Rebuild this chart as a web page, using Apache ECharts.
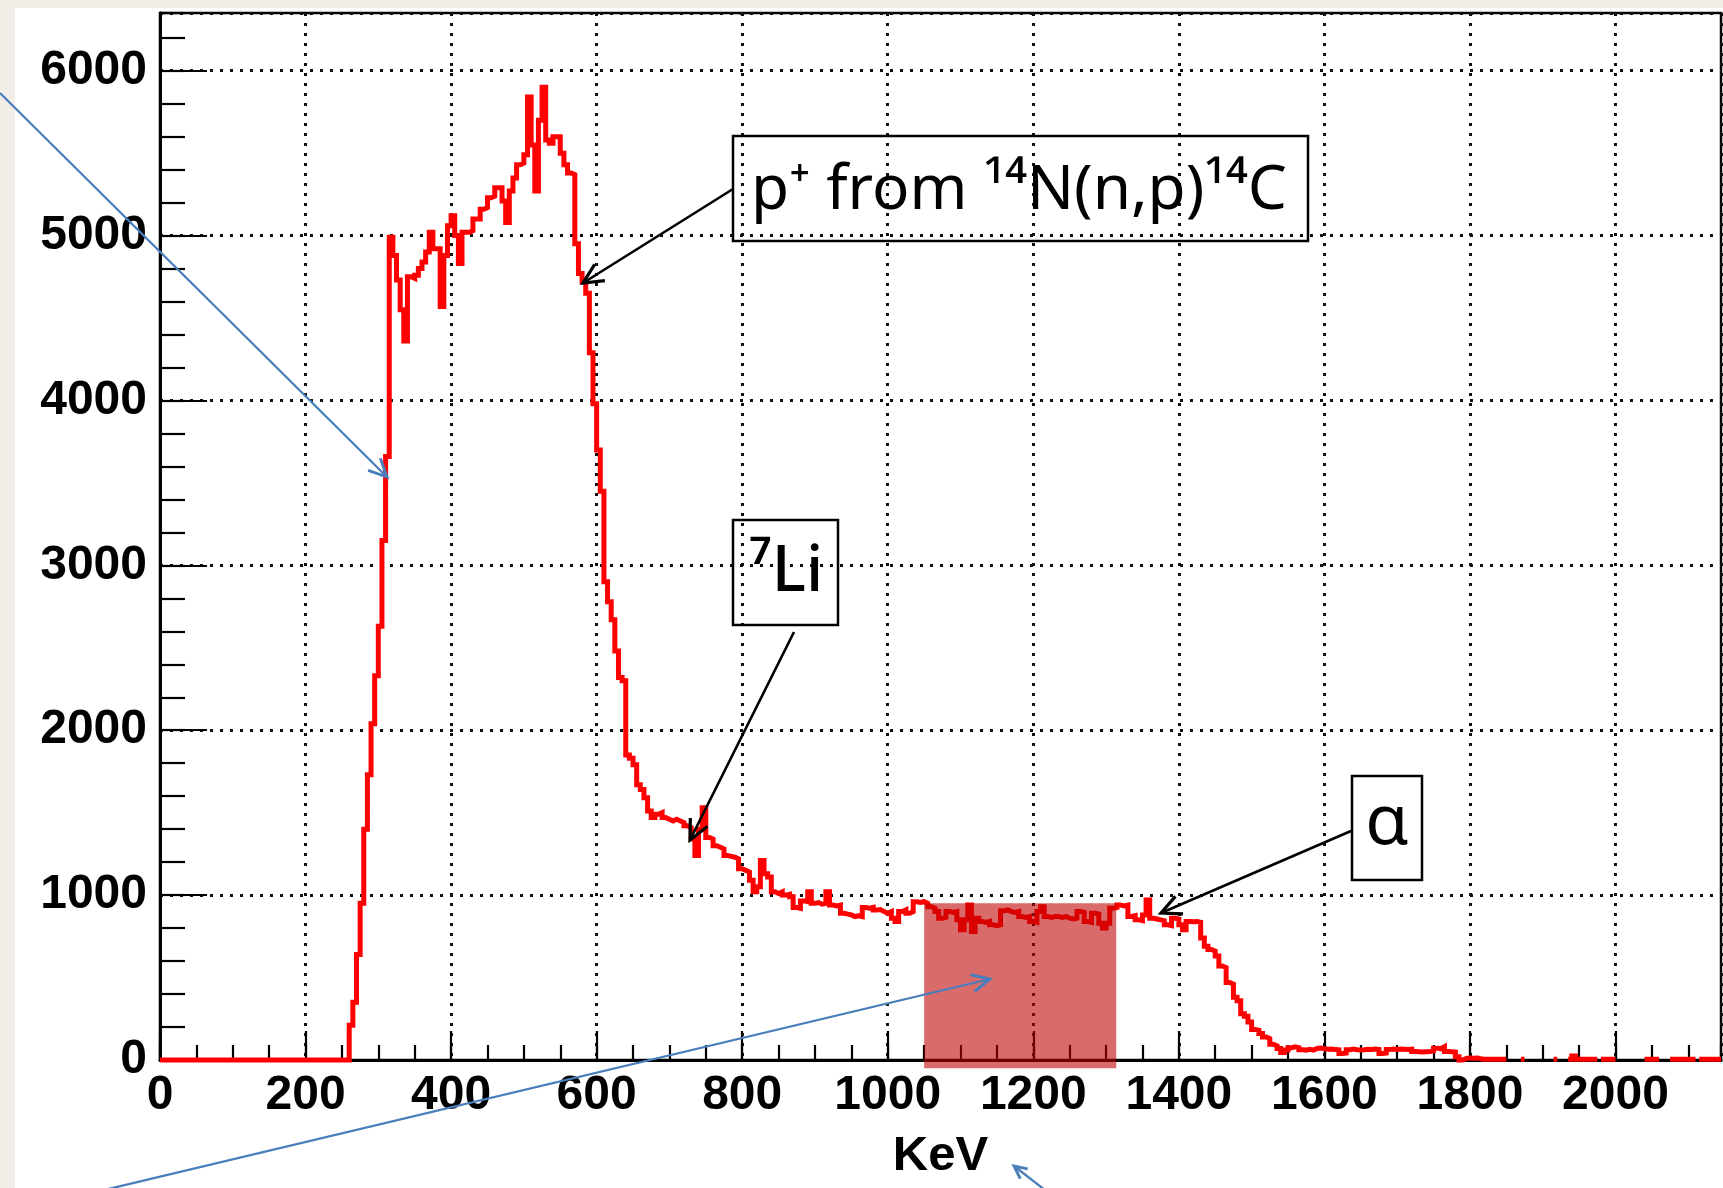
<!DOCTYPE html>
<html><head><meta charset="utf-8">
<script src="https://cdn.jsdelivr.net/npm/echarts@6/dist/echarts.min.js"></script>
<style>
html,body{margin:0;padding:0;width:1723px;height:1188px;background:#f1eee8;overflow:hidden}
#panel{position:absolute;left:15px;top:8px;right:0;bottom:0;background:#fff}
#chart{position:absolute;left:0;top:0;width:1723px;height:1188px}
</style></head><body>
<div id="panel"></div><div id="chart"></div>
<script>
// ---- data ----
const binStart = 0;      // keV
const binWidth = 5;      // keV
const counts = [
  0,0,0,0,0,0,0,0,0,0,0,0,0,0,0,0,0,0,0,0,
  0,0,0,0,0,0,0,0,0,0,0,0,0,0,0,0,0,0,0,0,
  0,0,0,0,0,0,0,0,0,0,0,0,210,350,640,950,1400,1730,2040,2330,
  2630,3150,3660,4990,4880,4730,4550,4360,4750,4740,4760,4800,4840,4900,5020,4920,4920,4570,4880,5060,
  5120,5000,4830,5020,5020,5030,5100,5100,5160,5170,5230,5240,5290,5290,5210,5080,5270,5350,5430,5440,
  5490,5840,5550,5270,5700,5900,5580,5560,5600,5600,5500,5430,5380,5370,4950,4770,4720,4650,4290,3980,
  3700,3450,2900,2780,2670,2480,2320,2300,1850,1830,1790,1670,1640,1590,1510,1470,1490,1500,1470,1460,
  1450,1460,1450,1440,1420,1410,1340,1240,1400,1530,1350,1340,1300,1290,1280,1240,1235,1230,1220,1160,
  1150,1140,1090,1020,1050,1210,1130,1110,1020,1010,1020,1000,1005,990,925,920,965,960,1020,950,
  955,945,950,1020,940,935,940,890,885,880,870,875,870,925,920,925,910,912,900,890,
  900,860,840,900,910,890,900,960,955,960,950,930,920,900,860,865,900,895,900,850,
  790,850,940,780,860,840,835,840,820,815,820,905,910,900,895,900,870,865,870,840,
  835,900,930,870,865,870,870,865,870,860,855,860,900,895,840,835,890,885,830,800,
  830,920,925,940,935,940,870,875,850,845,880,970,860,855,850,845,820,815,860,855,
  820,790,840,838,840,835,740,690,670,660,630,570,560,470,460,380,360,280,265,230,
  185,180,160,140,130,95,85,70,45,60,75,80,75,62,60,65,60,70,72,68,
  65,66,64,62,40,42,62,66,62,60,62,65,64,66,64,40,42,64,66,64,
  66,65,64,66,52,50,48,50,52,55,72,68,80,52,50,48,20,0,10,12,
  10,12,8,5,5,5,5,5,5,5,null,null,null,null,5,null,null,null,null,null,
  null,null,null,5,null,null,null,5,25,5,5,5,5,5,5,null,5,5,5,5,
  null,null,null,null,null,null,null,null,5,5,5,5,null,null,null,5,5,5,5,5,
  5,5,null,5,5,5,5,5,5
];
const xRange = [0, 2145];
const yRange = [0, 6350];
const xMajor = 200, xMinor = 50;
const yMajor = 1000, yMinor = 200;
const xTitle = 'KeV';
// highlighted window: [xFrom, xTo, yFrom, yTo]
const highlight = [1050, 1314, -50, 950];
const boxLabels = ['p\u207A from \u00B9\u2074N(n,p)\u00B9\u2074C', '\u2077Li', '\u03B1'];

// ---- build histogram outline ----
const pts = [];
counts.forEach((v, i) => {
  const x0 = binStart + i * binWidth;
  if (v === null) { pts.push([x0, null]); }
  else { pts.push([x0, v]); pts.push([x0 + binWidth, v]); }
});

function arrow(x1, y1, x2, y2, color, w, head) {
  const a = Math.atan2(y2 - y1, x2 - x1);
  const s = Math.PI / 7;
  const h1 = [x2 - head * Math.cos(a - s), y2 - head * Math.sin(a - s)];
  const h2 = [x2 - head * Math.cos(a + s), y2 - head * Math.sin(a + s)];
  return [
    {type: 'line', z: 100, shape: {x1, y1, x2, y2}, style: {stroke: color, lineWidth: w}},
    {type: 'polyline', z: 100, shape: {points: [h1, [x2, y2], h2]}, style: {stroke: color, lineWidth: w + 0.6, fill: null}}
  ];
}

const annFont = '"Noto Sans", "DejaVu Sans", sans-serif';
const blue = '#4a7ebb';
const graphics = [].concat(
  arrow(0, 93, 387, 477, blue, 2.3, 20),
  arrow(104, 1190, 990, 979, blue, 2.3, 20),
  arrow(1045, 1190, 1014, 1166, blue, 2.3, 14),
  arrow(733, 189, 583, 283, '#000', 2.6, 22),
  arrow(794, 632, 690, 840, '#000', 2.6, 22),
  arrow(1351, 831, 1161, 913, '#000', 2.6, 22),
  [
    {type: 'rect', z: 100, shape: {x: 733, y: 136, width: 575, height: 105}, style: {fill: null, stroke: '#000', lineWidth: 2.5}},
    {type: 'rect', z: 100, shape: {x: 733, y: 520, width: 105, height: 105}, style: {fill: null, stroke: '#000', lineWidth: 2.5}},
    {type: 'rect', z: 100, shape: {x: 1352, y: 776, width: 70, height: 104}, style: {fill: null, stroke: '#000', lineWidth: 2.5}},
    {type: 'text', z: 101, x: 1019, y: 191, style: {text: boxLabels[0], font: '62px ' + annFont, fill: '#000', align: 'center', verticalAlign: 'middle'}},
    {type: 'text', z: 101, x: 786, y: 573, style: {text: boxLabels[1], font: '500 64px ' + annFont, fill: '#000', align: 'center', verticalAlign: 'middle'}},
    {type: 'text', z: 101, x: 1387, y: 824, style: {text: boxLabels[2], font: '70px ' + annFont, fill: '#000', align: 'center', verticalAlign: 'middle'}}
  ]
);

const labelFont = {fontFamily: '"Liberation Sans", Arial, sans-serif', fontWeight: 'bold', fontSize: 48, color: '#000'};
const plain = v => String(v);

const chart = echarts.init(document.getElementById('chart'), null, {renderer: 'canvas'});
chart.setOption({
  backgroundColor: 'transparent',
  animation: false,
  grid: {left: 160, right: 2, top: 13, bottom: 128, show: true, borderColor: '#000', borderWidth: 2.5, backgroundColor: 'transparent'},
  xAxis: [{
    type: 'value', min: xRange[0], max: xRange[1], interval: xMajor,
    axisLine: {show: true, onZero: false, lineStyle: {color: '#000', width: 3}},
    axisTick: {show: true, inside: true, length: 29, lineStyle: {color: '#000', width: 2.2}},
    axisLabel: Object.assign({margin: 12, showMaxLabel: false, formatter: plain}, labelFont),
    splitLine: {show: true, lineStyle: {color: '#111', width: 3, type: [3, 7]}},
    name: xTitle, nameLocation: 'middle', nameGap: 72,
    nameTextStyle: {fontFamily: '"Liberation Sans", Arial, sans-serif', fontWeight: 'bold', fontSize: 49, color: '#000'}
  }, {
    type: 'value', min: xRange[0], max: xRange[1], interval: xMinor, position: 'bottom',
    axisLine: {show: false}, axisLabel: {show: false}, splitLine: {show: false},
    axisTick: {show: true, inside: true, length: 15, lineStyle: {color: '#000', width: 2.2}}
  }],
  yAxis: [{
    type: 'value', min: yRange[0], max: yRange[1], interval: yMajor, position: 'left',
    axisLine: {show: true, onZero: false, lineStyle: {color: '#000', width: 3}},
    axisTick: {show: true, inside: true, length: 47, lineStyle: {color: '#000', width: 2.2}},
    axisLabel: Object.assign({margin: 13, showMaxLabel: false, formatter: plain}, labelFont),
    splitLine: {show: true, lineStyle: {color: '#111', width: 3, type: [3, 7]}}
  }, {
    type: 'value', min: yRange[0], max: yRange[1], interval: yMinor, position: 'left', offset: 0,
    axisLine: {show: false}, axisLabel: {show: false}, splitLine: {show: false},
    axisTick: {show: true, inside: true, length: 25, lineStyle: {color: '#000', width: 2.2}}
  }],
  series: [{
    type: 'line', xAxisIndex: 0, yAxisIndex: 0, data: pts,
    symbol: 'none', showSymbol: false, connectNulls: false, clip: false, z: 5,
    lineStyle: {color: '#ff0000', width: 5, join: 'miter'}
  }, {
    type: 'custom', xAxisIndex: 0, yAxisIndex: 0, clip: false, z: 6,
    data: [highlight],
    encode: {x: [0, 1], y: [2, 3]},
    renderItem: function (params, api) {
      const p0 = api.coord([api.value(0), api.value(3)]);
      const p1 = api.coord([api.value(1), api.value(2)]);
      return {type: 'rect', shape: {x: p0[0], y: p0[1], width: p1[0] - p0[0], height: p1[1] - p0[1]},
              style: {fill: 'rgba(190,0,0,0.58)'}};
    }
  }],
  graphic: graphics
});
</script>
</body></html>
